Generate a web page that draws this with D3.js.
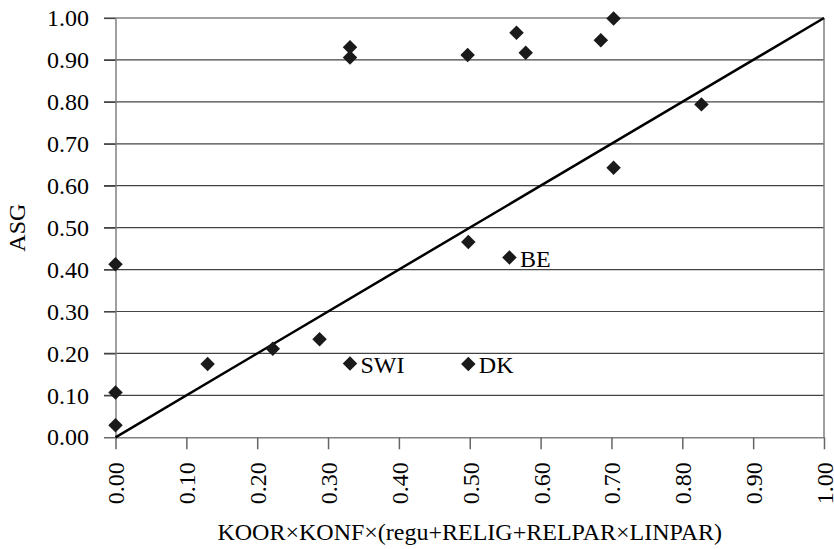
<!DOCTYPE html>
<html>
<head>
<meta charset="utf-8">
<script src="https://cdn.jsdelivr.net/npm/d3@7"></script>
<style>
  body { margin: 0; background: #fff; }
  svg text { font-family: "Liberation Serif", "Times New Roman", serif; fill: #000; }
</style>
</head>
<body>
<div id="container"></div>
<script>
// data
const xValues = [0.000, 0.000, 0.000, 0.130, 0.222, 0.288, 0.331, 0.498, 0.556, 0.498, 0.703, 0.827, 0.331, 0.331, 0.497, 0.566, 0.579, 0.685, 0.703];
const yValues = [0.413, 0.107, 0.029, 0.175, 0.211, 0.234, 0.176, 0.175, 0.429, 0.466, 0.643, 0.794, 0.930, 0.906, 0.912, 0.965, 0.917, 0.947, 0.999];
const pointLabels = ["", "", "", "", "", "", "SWI", "DK", "BE", "", "", "", "", "", "", "", "", "", ""];
const fitLine = [{ x: 0, y: 0 }, { x: 1, y: 1 }];
const tickValues = [0, 0.1, 0.2, 0.3, 0.4, 0.5, 0.6, 0.7, 0.8, 0.9, 1.0];
const xTitle = "KOOR×KONF×(regu+RELIG+RELPAR×LINPAR)";
const yTitle = "ASG";

const width = 834, height = 549;
const margin = { top: 18, right: 10, bottom: 112, left: 115.5 };
const fontSize = 24;

const data = xValues.map((v, i) => ({ x: v, y: yValues[i], label: pointLabels[i] }));

let x = d3.scaleLinear().domain([0, 1]).range([margin.left, 824]);
let y = d3.scaleLinear().domain([0, 1]).range([437.3, margin.top]);

let svg = d3.select("#container").append("svg")
    .attr("width", width)
    .attr("height", height);

// horizontal grid lines, they also stick out to the left as tick marks
svg.append("g")
    .selectAll("line")
    .data(tickValues.slice(1))
    .enter()
    .append("line")
    .attr("x1", 104)
    .attr("x2", x(1))
    .attr("y1", d => y(d))
    .attr("y2", d => y(d))
    .attr("stroke", "#444")
    .attr("stroke-width", 1.2);

// y axis
let yAxis = svg.append("g")
    .attr("transform", `translate(${x(0)},0)`)
    .call(d3.axisLeft(y).tickValues(tickValues).tickFormat(d3.format(".2f")).tickSizeInner(11.5).tickSizeOuter(0).tickPadding(15));
yAxis.attr("font-family", null).attr("font-size", null);
yAxis.select(".domain").attr("stroke", "#808080").attr("stroke-width", 1.5);
yAxis.selectAll(".tick line").attr("stroke", "#444").attr("stroke-width", 1.2);
yAxis.selectAll(".tick text")
    .style("font-size", fontSize + "px");

// x axis
let xAxis = svg.append("g")
    .attr("transform", `translate(0,${y(0)})`)
    .call(d3.axisBottom(x).tickValues(tickValues).tickFormat(d3.format(".2f")).tickSizeInner(12).tickSizeOuter(0));
xAxis.attr("font-family", null).attr("font-size", null);
xAxis.select(".domain").attr("stroke", "#808080").attr("stroke-width", 1.5);
xAxis.selectAll(".tick line").attr("stroke", "#666").attr("stroke-width", 1.5);
xAxis.selectAll(".tick text")
    .attr("transform", "rotate(-90)")
    .attr("x", -25)
    .attr("y", 0)
    .attr("dy", "0.35em")
    .attr("text-anchor", "end")
    .style("font-size", fontSize + "px");

// right border
svg.append("line")
    .attr("x1", x(1)).attr("x2", x(1))
    .attr("y1", y(1)).attr("y2", y(0))
    .attr("stroke", "#808080")
    .attr("stroke-width", 1.5);

// 45 degree line
let line = d3.line()
    .x(d => x(d.x))
    .y(d => y(d.y));

svg.append("path")
    .datum(fitLine)
    .attr("fill", "none")
    .attr("stroke", "#000")
    .attr("stroke-width", 2.5)
    .attr("d", line);

// points as diamonds
let diamond = d3.symbol().type(d3.symbolSquare).size(105);
svg.selectAll(".plot-point")
    .data(data)
    .enter()
    .append("path")
    .attr("class", "plot-point")
    .attr("d", diamond)
    .attr("fill", "#1a1a1a")
    .attr("transform", d => `translate(${x(d.x)},${y(d.y)}) rotate(45)`);

svg.selectAll(".point-label")
    .data(data.filter(d => d.label))
    .enter()
    .append("text")
    .attr("class", "point-label")
    .attr("x", d => x(d.x) + 10.5)
    .attr("y", d => y(d.y) + 1)
    .attr("dy", "0.35em")
    .style("font-size", fontSize + "px")
    .text(d => d.label);

// axis titles
svg.append("text")
    .attr("x", (x(0) + x(1)) / 2)
    .attr("y", 540)
    .attr("text-anchor", "middle")
    .style("font-size", fontSize + "px")
    .text(xTitle);

svg.append("text")
    .attr("transform", `translate(25,${(y(0) + y(1)) / 2}) rotate(-90)`)
    .attr("text-anchor", "middle")
    .style("font-size", fontSize + "px")
    .text(yTitle);
</script>
</body>
</html>
